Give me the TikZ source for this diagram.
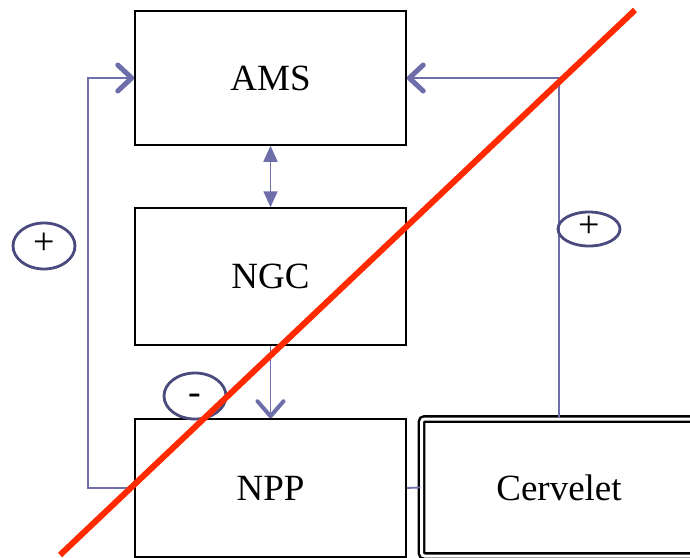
\documentclass[tikz,border=0pt]{standalone}
\usepackage{fontspec}
\setmainfont{Liberation Serif}
\usetikzlibrary{arrows.meta,shapes.geometric}
\definecolor{linkc}{HTML}{6E6EAA}
\definecolor{ovalc}{HTML}{4A4A7E}
\definecolor{slash}{HTML}{FF2A00}
\begin{document}
\begin{tikzpicture}[x=1pt,y=-1pt,
  block/.style={draw=black,line width=1.5pt,rectangle,minimum width=271pt,inner sep=0pt,
    font=\fontsize{37}{40}\selectfont},
  link/.style={draw=linkc,line width=1.8pt},
  openhead/.style={-{Straight Barb[length=14pt,width=26pt,line width=5pt,round]}},
  openhead2/.style={-{Straight Barb[length=15pt,width=26pt,line width=4pt,round]}},
  sign/.style={draw=ovalc,line width=2.8pt,ellipse,minimum width=62pt,inner sep=0pt,
    text height=16pt,text depth=0pt,font=\fontsize{38}{40}\selectfont}]
\useasboundingbox (0,0) rectangle (690,557);
\clip (0,0) rectangle (690,557);
\fill[white] (0,0) rectangle (690,557);
\node[block,minimum height=134pt] (ams) at (270.5,78) {AMS};
\node[block,minimum height=137pt] (ngc) at (270.5,276.5) {NGC};
\node[block,minimum height=138pt] (npp) at (270.5,488) {NPP};
\node[draw=black,line width=2.4pt,double=white,double distance=3pt,rounded corners=3pt,
  rectangle,minimum width=275pt,minimum height=137pt,inner sep=0pt,
  font=\fontsize{37}{40}\selectfont] (cerv) at (559,487.5) {Cervelet};
% connectors
\draw[link,{Triangle[length=16pt,width=14pt]}-{Triangle[length=16pt,width=14pt]}] (ams.south) -- (ngc.north);
\draw[link,openhead2] (ngc.south) -- (npp.north);
\draw[link,openhead] (npp.west) -- ++(-46,0) |- (ams.west);
\draw[link,openhead] (cerv.north) |- (ams.east);
\draw[link] (npp.east) -- (cerv.west);
% signs
\node[sign,minimum height=46pt] (pl) at (44,246) {+};
\node[sign,minimum height=34pt] (pr) at (589,229) {+};
\node[sign,minimum height=46pt] (mi) at (195,396) {-};
% red slash
\coordinate (s1) at (60,555);
\coordinate (s2) at (635,10);
\draw[slash,line width=6pt] (s1) -- (s2);
\end{tikzpicture}
\end{document}
